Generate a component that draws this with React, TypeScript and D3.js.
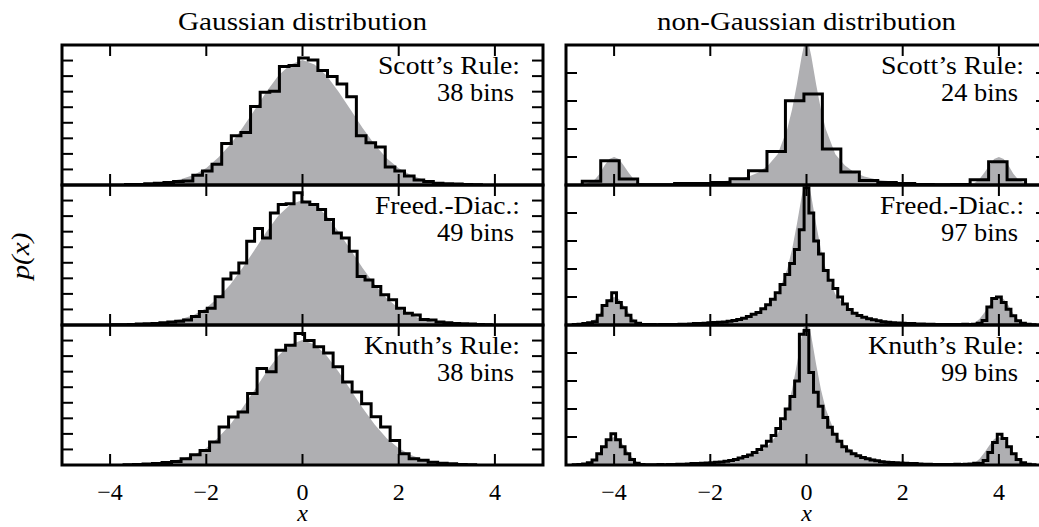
import React from 'react';
import * as d3 from 'd3';

// gray background: fine histogram of the underlying sample
const gaussGrayX = [-4.2, -3.8, -3.5, -3.0, -2.75, -2.5, -2.25, -2.0, -1.75, -1.5, -1.25, -1.0, -0.75, -0.5, -0.25, 0, 0.25, 0.5, 0.75, 1.0, 1.25, 1.5, 1.75, 2.0, 2.25, 2.5, 2.75, 3.0, 3.5, 4.0, 4.2];
const gaussGrayY = [0, 0.002, 0.004, 0.007, 0.012, 0.02, 0.033, 0.055, 0.088, 0.13, 0.183, 0.24, 0.3, 0.352, 0.387, 0.402, 0.387, 0.352, 0.3, 0.242, 0.183, 0.13, 0.086, 0.054, 0.032, 0.018, 0.01, 0.005, 0.002, 0.001, 0];

const nonGaussGrayX = [-4.9, -4.6, -4.4, -4.3, -4.2, -4.1, -4.0, -3.9, -3.8, -3.7, -3.6, -3.5, -3.3, -3.0, -2.5, -2.0, -1.5, -1.2, -1.0, -0.8, -0.6, -0.4, -0.3, -0.2, -0.1, 0, 0.1, 0.2, 0.3, 0.4, 0.6, 0.8, 1.0, 1.2, 1.5, 2.0, 2.5, 3.0, 3.3, 3.5, 3.6, 3.7, 3.8, 3.9, 4.0, 4.1, 4.2, 4.3, 4.4, 4.6, 4.9];
const nonGaussGrayY = [0, 0.003, 0.02, 0.04, 0.07, 0.093, 0.1, 0.093, 0.07, 0.045, 0.022, 0.008, 0.003, 0.003, 0.005, 0.009, 0.018, 0.03, 0.045, 0.07, 0.11, 0.2, 0.27, 0.36, 0.46, 0.54, 0.46, 0.36, 0.27, 0.2, 0.11, 0.07, 0.045, 0.03, 0.018, 0.009, 0.005, 0.003, 0.003, 0.008, 0.022, 0.045, 0.07, 0.093, 0.1, 0.093, 0.07, 0.04, 0.02, 0.003, 0];

// step histograms: [first edge, last edge] and bin heights
const scottGaussRange = [-3.68, 3.72];
const scottGauss = [0.002, 0.002, 0.004, 0.006, 0.008, 0.011, 0.013, 0.031, 0.045, 0.067, 0.133, 0.158, 0.169, 0.252, 0.298, 0.301, 0.381, 0.384, 0.408, 0.402, 0.368, 0.349, 0.325, 0.284, 0.158, 0.136, 0.122, 0.058, 0.045, 0.029, 0.016, 0.011, 0.006, 0.004, 0.003, 0.002, 0.001];

const fdGaussRange = [-3.948, 3.924];
const fdGauss = [0.001, 0.001, 0.002, 0.003, 0.004, 0.005, 0.007, 0.01, 0.012, 0.016, 0.027, 0.043, 0.054, 0.091, 0.148, 0.167, 0.199, 0.269, 0.31, 0.28, 0.36, 0.387, 0.39, 0.425, 0.395, 0.387, 0.371, 0.339, 0.296, 0.28, 0.237, 0.156, 0.145, 0.124, 0.097, 0.081, 0.054, 0.038, 0.032, 0.018, 0.016, 0.01, 0.007, 0.005, 0.004, 0.003, 0.002, 0.001];

const knuthGaussRange = [-3.71, 3.6];
const knuthGauss = [0.001, 0.002, 0.003, 0.005, 0.008, 0.011, 0.02, 0.033, 0.047, 0.074, 0.122, 0.154, 0.17, 0.23, 0.31, 0.3, 0.369, 0.385, 0.423, 0.4, 0.38, 0.36, 0.316, 0.267, 0.235, 0.197, 0.155, 0.122, 0.079, 0.036, 0.02, 0.015, 0.009, 0.006, 0.004, 0.002, 0.001];

const scottNonRange = [-4.662, 4.554];
const scottNon = [0.013, 0.087, 0.021, 0.001, 0.001, 0.005, 0.005, 0.009, 0.022, 0.051, 0.12, 0.301, 0.325, 0.129, 0.046, 0.016, 0.009, 0.005, 0.002, 0.001, 0.002, 0.019, 0.083, 0.019];

const fdNonRange = [-4.85, 4.75];
const fdNon = [
  0.002, 0.003, 0.005, 0.008, 0.012, 0.035, 0.07, 0.087, 0.115, 0.08, 0.062, 0.035, 0.014, 0.006, 0.002,
  0.002, 0.002, 0.001, 0.002, 0.002, 0.002, 0.002, 0.003, 0.003, 0.004, 0.005, 0.005, 0.006, 0.008, 0.009, 0.01,
  0.011, 0.013, 0.016, 0.02, 0.024, 0.03, 0.038, 0.045, 0.058, 0.072, 0.092, 0.115, 0.145, 0.18, 0.22, 0.27, 0.34,
  0.49,
  0.4, 0.3, 0.254, 0.195, 0.16, 0.13, 0.1, 0.075, 0.055, 0.042, 0.034, 0.028, 0.022, 0.019, 0.015, 0.012, 0.01, 0.008, 0.007, 0.006, 0.005, 0.005, 0.004, 0.004, 0.003, 0.003, 0.002, 0.002, 0.002, 0.002, 0.002, 0.002, 0.003, 0.002, 0.003,
  0.006, 0.016, 0.064, 0.095, 0.1, 0.08, 0.056, 0.033, 0.015, 0.006, 0.003, 0.001
];

const knuthNonRange = [-4.85, 4.75];
const knuthNon = [
  0.001, 0.002, 0.004, 0.008, 0.018, 0.04, 0.065, 0.09, 0.112, 0.09, 0.065, 0.04, 0.02, 0.006, 0.002,
  0.001, 0.001, 0.001, 0.002, 0.001, 0.002, 0.002, 0.003, 0.003, 0.004, 0.005, 0.005, 0.006, 0.007, 0.008, 0.01, 0.011,
  0.013, 0.016, 0.02, 0.025, 0.03, 0.036, 0.045, 0.055, 0.068, 0.085, 0.105, 0.13, 0.165, 0.2, 0.245, 0.3, 0.467,
  0.48,
  0.33, 0.26, 0.21, 0.17, 0.135, 0.11, 0.085, 0.065, 0.05, 0.04, 0.033, 0.027, 0.022, 0.018, 0.015, 0.012, 0.01, 0.009, 0.008, 0.007, 0.006, 0.005, 0.005, 0.004, 0.003, 0.003, 0.002, 0.002, 0.002, 0.002, 0.002, 0.003, 0.002, 0.003, 0.004, 0.006,
  0.005, 0.016, 0.045, 0.08, 0.11, 0.095, 0.065, 0.04, 0.02, 0.008, 0.003, 0.001
];

const colTitles = ['Gaussian distribution', 'non-Gaussian distribution'];
const ruleNames = ['Scott\u2019s Rule:', 'Freed.-Diac.:', 'Knuth\u2019s Rule:'];
const binLabels = [['38 bins', '49 bins', '38 bins'], ['24 bins', '97 bins', '99 bins']];
const xDomain = [-5, 5];
const yMax = [0.45, 0.5];
const yTickStep = [0.05, 0.1];

const histData = [
  [{ range: scottGaussRange, h: scottGauss }, { range: fdGaussRange, h: fdGauss }, { range: knuthGaussRange, h: knuthGauss }],
  [{ range: scottNonRange, h: scottNon }, { range: fdNonRange, h: fdNon }, { range: knuthNonRange, h: knuthNon }],
];
const grayData = [
  { x: gaussGrayX, y: gaussGrayY },
  { x: nonGaussGrayX, y: nonGaussGrayY },
];

// layout
const W = 1039, H = 527;
const colLeft = [62, 566];
const panelW = 481;
const rowTop = 45;
const panelH = 140;
const tf = { fontFamily: 'Liberation Serif' };
const titleLen = [249, 299];
const ruleLen = [[142, 145, 156], [143, 144, 156]];

const Panel = ({ col, row }) => {
  const x0 = colLeft[col];
  const y0 = rowTop + row * panelH;
  const x = d3.scaleLinear().domain(xDomain).range([x0, x0 + panelW]);
  const y = d3.scaleLinear().domain([0, yMax[col]]).range([y0 + panelH, y0]);

  const g = grayData[col];
  const grayPts = g.x.map((v, i) => [v, g.y[i]]);
  const area = d3.area<number[]>()
    .x(d => x(d[0]))
    .y0(y(0))
    .y1(d => y(d[1]));

  const hd = histData[col][row];
  const n = hd.h.length;
  const bw = (hd.range[1] - hd.range[0]) / n;
  const pts: number[][] = [[hd.range[0], 0]];
  hd.h.forEach((v, i) => {
    pts.push([hd.range[0] + i * bw, v]);
    pts.push([hd.range[0] + (i + 1) * bw, v]);
  });
  pts.push([hd.range[1], 0]);
  const line = d3.line<number[]>().x(d => x(d[0])).y(d => y(d[1]));

  const xt = x.ticks(5);
  const ns = Math.round(yMax[col] / yTickStep[col]);
  const yt = d3.range(1, ns).map(i => i * yTickStep[col]);
  const clipId = `clip-${col}-${row}`;
  const tl = 11;

  return (
    <g>
      <defs>
        <clipPath id={clipId}>
          <rect x={x0} y={y0} width={panelW} height={panelH} />
        </clipPath>
      </defs>
      <g clipPath={`url(#${clipId})`}>
        <path d={area(grayPts) || ''} fill="#afafb2" />
        <path d={line(pts) || ''} fill="none" stroke="#000" strokeWidth={3} strokeLinejoin="miter" />
      </g>
      {xt.map(t => (
        <g key={'x' + t}>
          <line x1={x(t)} x2={x(t)} y1={y0} y2={y0 + tl} stroke="#000" strokeWidth={2} />
          <line x1={x(t)} x2={x(t)} y1={y0 + panelH} y2={y0 + panelH - tl} stroke="#000" strokeWidth={2} />
        </g>
      ))}
      {yt.map(t => (
        <g key={'y' + t}>
          <line x1={x0} x2={x0 + tl} y1={y(t)} y2={y(t)} stroke="#000" strokeWidth={2} />
          <line x1={x0 + panelW} x2={x0 + panelW - tl} y1={y(t)} y2={y(t)} stroke="#000" strokeWidth={2} />
        </g>
      ))}
      <rect x={x0} y={y0} width={panelW} height={panelH} fill="none" stroke="#000" strokeWidth={3} />
      <text x={x0 + 458} y={y0 + 29} textAnchor="end" style={tf} fontSize={25}
        textLength={ruleLen[col][row]} lengthAdjust="spacingAndGlyphs">{ruleNames[row]}</text>
      <text x={x0 + 452} y={y0 + 56} textAnchor="end" style={tf} fontSize={25}
        textLength={77} lengthAdjust="spacingAndGlyphs">{binLabels[col][row]}</text>
      {row === 2 && xt.map(t => (
        <text key={'l' + t} x={x(t)} y={y0 + panelH + 35} textAnchor="middle" style={tf} fontSize={24}>
          {t < 0 ? '\u2212' + Math.abs(t) : String(t)}
        </text>
      ))}
    </g>
  );
};

export default function App() {
  return (
    <svg width={W} height={H} fontFamily="Liberation Serif"
      style={{ display: 'block', position: 'absolute', left: 0, top: 0, background: '#fff' }}>
      <rect width={W} height={H} fill="#fff" />
      {[0, 1].map(col => (
        <g key={col}>
          <text x={colLeft[col] + panelW / 2} y={30} textAnchor="middle" style={tf} fontSize={26}
            textLength={titleLen[col]} lengthAdjust="spacingAndGlyphs">{colTitles[col]}</text>
          {[0, 1, 2].map(row => <Panel key={row} col={col} row={row} />)}
          <text x={colLeft[col] + panelW / 2} y={521} textAnchor="middle" style={tf} fontSize={24} fontStyle="italic">x</text>
        </g>
      ))}
      <text transform={`translate(29, 256) rotate(-90)`} textAnchor="middle" style={tf} fontSize={26} fontStyle="italic"
        textLength={47} lengthAdjust="spacingAndGlyphs">p(x)</text>
    </svg>
  );
}
